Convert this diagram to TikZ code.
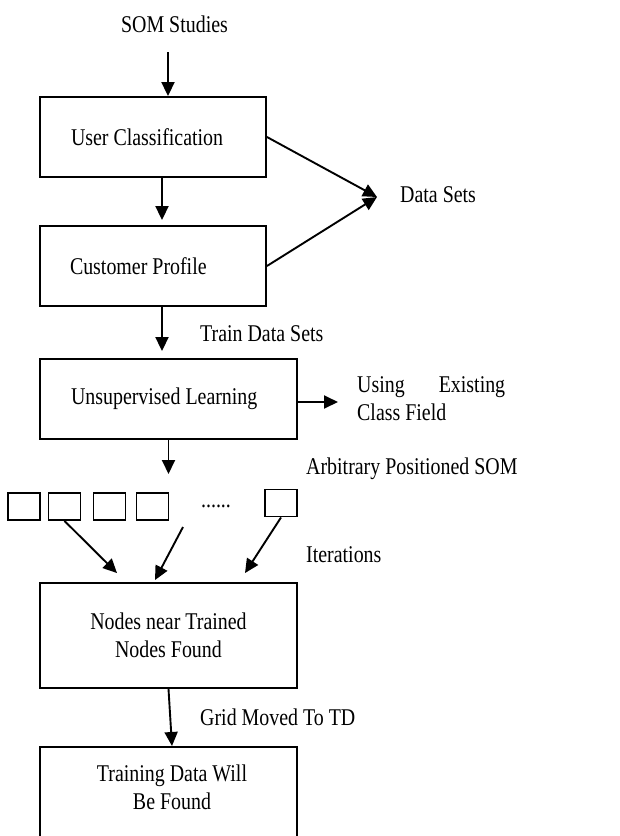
\documentclass[tikz,border=0pt]{standalone}
\usepackage{fontspec}
\setmainfont{Liberation Serif}[FakeStretch=0.83]
\usetikzlibrary{arrows.meta,calc}
\begin{document}
\begin{tikzpicture}[x=1pt,y=-1pt,
  every node/.style={font=\fontsize{24}{28}\selectfont, inner sep=0pt},
  box/.style={draw, line width=1.9pt},
  sq/.style={draw, line width=1.9pt, minimum width=32pt, minimum height=27pt},
  arr/.style={line width=1.9pt, -{Triangle[length=14pt,width=13pt]}},
  lbl/.style={anchor=base west}]
\useasboundingbox (0,0) rectangle (619,836);

% main boxes
\node[box, minimum height=80pt, text width=164pt, inner xsep=31pt, align=flush left] (uc) at (153,137) {User Classification};
\node[box, minimum height=80pt, text width=166pt, inner xsep=30pt, align=flush left] (cp) at (153,266) {Customer Profile};
\node[box, minimum height=80pt, text width=195pt, inner xsep=31pt, align=flush left] (ul) at (168.5,399) {Unsupervised Learning};
\node[box, minimum width=257pt, minimum height=105pt, align=center] (nn) at (168.5,635.5) {Nodes near Trained\\Nodes Found};
\node[box, minimum width=257pt, minimum height=120pt, anchor=north] (td) at (168.5,746) {};
\node[align=center] (tdt) at (172,787) {Training Data Will\\Be Found};

% small SOM boxes
\node[sq] (s1) at (24,506.5) {};
\node[sq] (s2) at (64.5,506.5) {};
\node[sq] (s3) at (109.5,506.5) {};
\node[sq] (s4) at (152.5,506.5) {};
\node[sq] (s5) at (281,503) {};
\node[anchor=base] (dots) at (216,507) {......};

% labels
\node[anchor=base] (som) at (174.5,32) {SOM Studies};
\node[lbl] (dsl) at (400,202) {Data Sets};
\node[lbl] (tds) at (200,341) {Train Data Sets};
\node[lbl, text width=148pt, align=flush left] (use) at (357,392) {Using\hfill Existing\\Class Field};
\node[lbl] (apsom) at (306,474) {Arbitrary Positioned SOM};
\node[lbl] (iter) at (306,562) {Iterations};
\node[lbl] (grid) at (200,725) {Grid Moved To TD};

% free ends
\coordinate (ds) at (377,197);
\coordinate (ue) at (338,402);
\coordinate (rowtop) at (168.5,474);
\coordinate (it2s) at (183,527);

% connectors
\draw[arr] ($(som.south)+(-6.5,20)$) -- ($(uc.north)+(15,0)$);
\draw[arr] ($(uc.south)+(9,0)$) -- ($(cp.north)+(9,-5)$);
\draw[arr] (uc.east) -- (ds);
\draw[arr] (cp.east) -- (ds);
\draw[arr] ($(cp.south)+(9,0)$) -- ($(ul.north)+(-6.5,-7)$);
\draw[arr] ($(ul.east)+(0,3)$) -- (ue);
\draw[arr] (ul.south) -- (rowtop);
\draw[arr] (s2.south) -- ($(nn.north)+(-51.5,-9)$);
\draw[arr] (it2s) -- ($(nn.north)+(-13.5,-2)$);
\draw[arr] (s5.south) -- ($(nn.north)+(76.5,-9)$);
\draw[arr] (nn.south) -- ($(td.north)+(3.5,0)$);
\end{tikzpicture}
\end{document}
